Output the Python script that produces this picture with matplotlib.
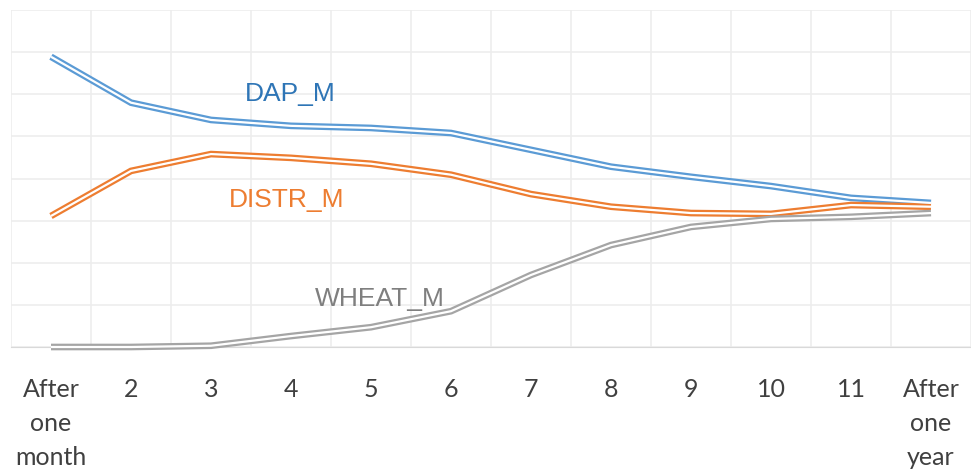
import matplotlib.pyplot as plt
import numpy as np

# months after application
months = ['After\none\nmonth', '2', '3', '4', '5', '6', '7', '8', '9', '10', '11', 'After\none\nyear']
dap_m = [6.89, 5.80, 5.39, 5.25, 5.20, 5.08, 4.68, 4.28, 4.04, 3.82, 3.54, 3.42]
distr_m = [3.11, 4.18, 4.58, 4.49, 4.35, 4.09, 3.63, 3.33, 3.18, 3.16, 3.37, 3.33]
wheat_m = [0.0, 0.0, 0.03, 0.26, 0.47, 0.85, 1.71, 2.42, 2.85, 3.04, 3.09, 3.18]

series = [
    ('DAP_M', dap_m, '#5B9BD5', '#2E75B6', (2.99, 6.0)),
    ('DISTR_M', distr_m, '#ED7D31', '#ED7D31', (2.95, 3.5)),
    ('WHEAT_M', wheat_m, '#A5A5A5', '#7F7F7F', (4.11, 1.15)),
]

fig = plt.figure(figsize=(9.71, 4.71), dpi=100)
ax = fig.add_axes([11 / 971, 124 / 471, 960 / 971, 337 / 471])

x = np.arange(len(months))
for name, vals, col, tcol, (lx, ly) in series:
    # double line: thick coloured stroke with a thin white core
    ax.plot(x, vals, color=col, lw=4.8, solid_joinstyle='miter',
            solid_capstyle='butt', zorder=3, clip_on=False)
    ax.plot(x, vals, color='white', lw=1.6, solid_joinstyle='miter',
            solid_capstyle='butt', zorder=4, clip_on=False)
    ax.text(lx, ly, name, color=tcol, fontsize=19, family='Liberation Sans',
            ha='center', va='center')

ax.set_xlim(-0.5, len(months) - 0.5)
ax.set_ylim(0, 8)
ax.set_yticks(np.arange(0, 9))
ax.set_yticklabels([])
ax.set_xticks(x)
ax.set_xticklabels(months, fontsize=18, family='Lato', color='#404040', linespacing=1.58)
ax.set_xticks(np.arange(-0.5, len(months), 1), minor=True)
ax.tick_params(axis='both', which='both', length=0)
ax.tick_params(axis='x', pad=22)
ax.grid(True, axis='y', color='#EDEDED', lw=1.2)
ax.grid(True, axis='x', which='minor', color='#EDEDED', lw=1.2)
for s in ['top', 'right', 'left']:
    ax.spines[s].set_visible(False)
ax.spines['bottom'].set_color('#D9D9D9')
ax.set_axisbelow(True)

fig.savefig('out.png', dpi=100)
